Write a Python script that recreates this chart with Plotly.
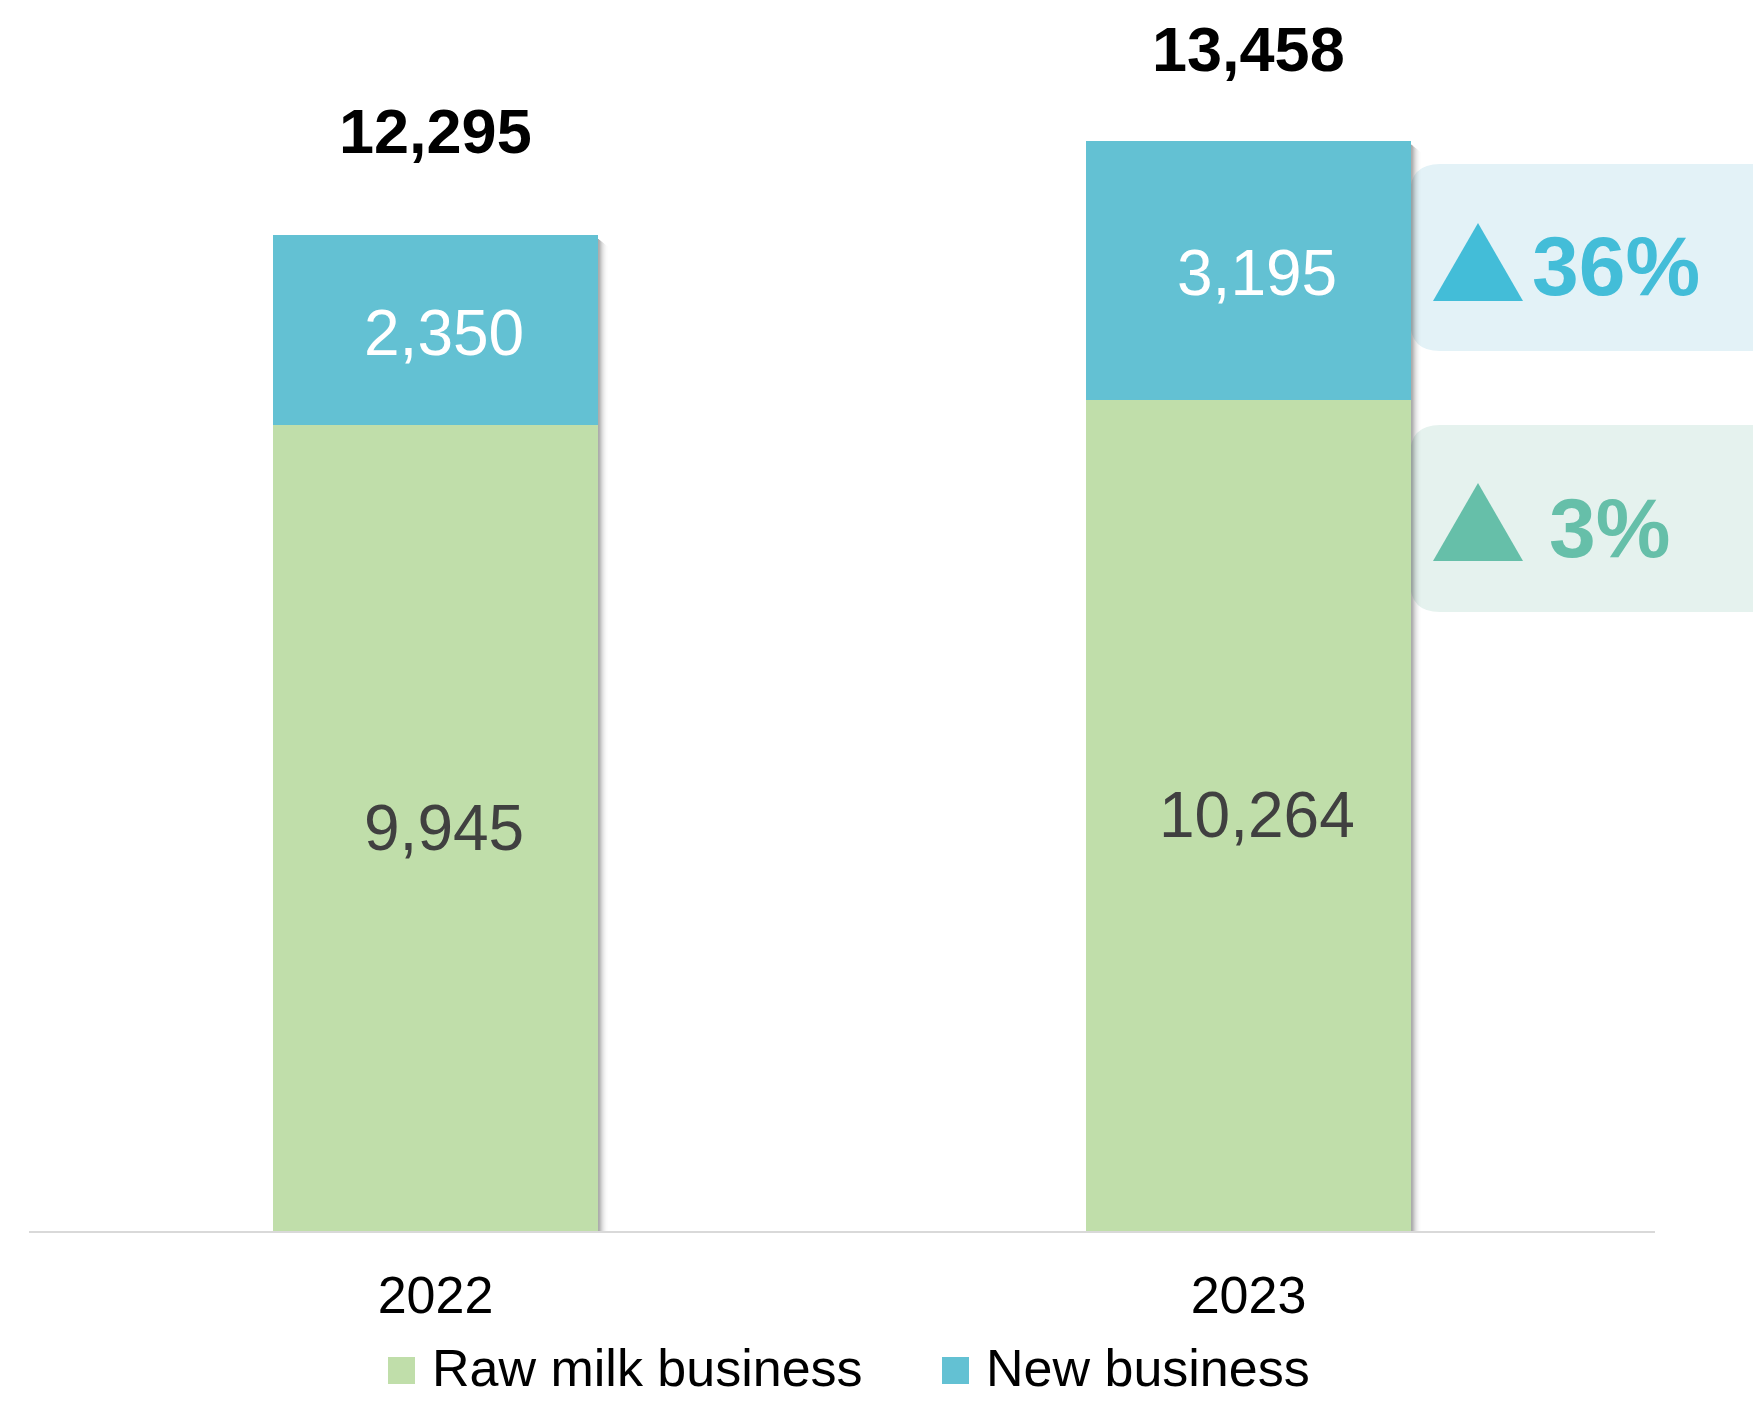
import plotly.graph_objects as go

# ---- data -------------------------------------------------------------
years = ["2022", "2023"]
raw_milk = [9945, 10264]
new_business = [2350, 3195]
totals = [12295, 13458]
series_names = ["Raw milk business", "New business"]

# ---- style ------------------------------------------------------------
FONT = "Liberation Sans, Arial, sans-serif"
GREEN = "#C0DEAA"
BLUE = "#63C1D3"
DARK = "#404040"
TRI_BLUE = "#43BDD8"
TRI_GREEN = "#66BFA9"
BOX_BLUE = "#E3F2F7"
BOX_GREEN = "#E5F2EE"

W_PX, H_PX = 1753, 1402
M_L, M_R, M_T, M_B = 29, 98, 20, 171
PLOT_W = W_PX - M_L - M_R
PLOT_H = H_PX - M_T - M_B
BASE_Y = H_PX - M_B
PX_PER_UNIT = 0.0810
Y_MAX = PLOT_H / PX_PER_UNIT
BAR_W = 0.4


def px(x):
    return (x - M_L) / PLOT_W


def py(y):
    return (BASE_Y - y) / PLOT_H


def rounded_rect(x0, y0, x1, y1, r):
    rx, ry = r / PLOT_W, r / PLOT_H
    X0, X1 = px(x0), px(x1)
    Yt, Yb = py(y0), py(y1)
    return (f"M{X0 + rx},{Yt} L{X1 - rx},{Yt} Q{X1},{Yt} {X1},{Yt - ry} "
            f"L{X1},{Yb + ry} Q{X1},{Yb} {X1 - rx},{Yb} "
            f"L{X0 + rx},{Yb} Q{X0},{Yb} {X0},{Yb + ry} "
            f"L{X0},{Yt - ry} Q{X0},{Yt} {X0 + rx},{Yt} Z")


def triangle(cx, top, bottom, half):
    return (f"M{px(cx)},{py(top)} L{px(cx + half)},{py(bottom)} "
            f"L{px(cx - half)},{py(bottom)} Z")


xs = list(range(len(years)))

fig = go.Figure()
fig.add_trace(go.Bar(x=xs, y=raw_milk, name=series_names[0], marker_color=GREEN,
                     marker_line_width=0, width=BAR_W, hoverinfo="skip"))
fig.add_trace(go.Bar(x=xs, y=new_business, name=series_names[1], marker_color=BLUE,
                     marker_line_width=0, width=BAR_W, hoverinfo="skip"))

shapes = []
annotations = []

# soft shadow on the right edge of each bar
shadow_alpha = [0.36, 0.30, 0.24, 0.18, 0.13, 0.09, 0.06, 0.035, 0.02, 0.01]
for i in xs:
    top = raw_milk[i] + new_business[i]
    for k, a in enumerate(shadow_alpha):
        shapes.append(dict(type="rect", xref="x", yref="y", xsizemode="pixel",
                           xanchor=i + BAR_W / 2, x0=k, x1=k + 1,
                           y0=0, y1=top - (4 + k * 0.8) / PX_PER_UNIT, line_width=0,
                           fillcolor=f"rgba(0,0,0,{a})", layer="above"))

# segment value labels
for i in xs:
    annotations.append(dict(x=i, y=raw_milk[i] / 2, xref="x", yref="y", xshift=8,
                            text=f"{raw_milk[i]:,}", showarrow=False,
                            font=dict(family=FONT, size=64, color=DARK)))
    annotations.append(dict(x=i, y=raw_milk[i] + new_business[i] / 2, xref="x",
                            yref="y", xshift=8, yshift=-3, text=f"{new_business[i]:,}",
                            showarrow=False,
                            font=dict(family=FONT, size=64, color="white")))

# totals above bars
total_lift = [104, 92]
for i, t in enumerate(totals):
    annotations.append(dict(x=i, y=t, xref="x", yref="y", yshift=total_lift[i],
                            yanchor="middle", text=f"<b>{t:,}</b>", showarrow=False,
                            font=dict(family=FONT, size=63, color="black")))

# growth call-outs
growth_new = round((new_business[1] / new_business[0] - 1) * 100)
growth_raw = round((raw_milk[1] / raw_milk[0] - 1) * 100)
callouts = [
    (164, 351, BOX_BLUE, TRI_BLUE, 223, 301, growth_new, 1530, 266),
    (425, 612, BOX_GREEN, TRI_GREEN, 483, 561, growth_raw, 1547, 528),
]
for top, bot, box_c, tri_c, t_top, t_bot, g, tx, ty in callouts:
    shapes.append(dict(type="path", xref="paper", yref="paper",
                       path=rounded_rect(1410, top, 1800, bot, 30),
                       fillcolor=box_c, line_width=0, layer="below"))
    shapes.append(dict(type="path", xref="paper", yref="paper",
                       path=triangle(1478, t_top, t_bot, 45),
                       fillcolor=tri_c, line_width=0, layer="above"))
    annotations.append(dict(x=px(tx), y=py(ty), xref="paper", yref="paper",
                            xanchor="left", yanchor="middle", text=f"<b>{g}%</b>",
                            showarrow=False,
                            font=dict(family=FONT, size=84, color=tri_c)))

# legend
legend_items = [(series_names[0], GREEN, 388), (series_names[1], BLUE, 942)]
for name, col, x0 in legend_items:
    shapes.append(dict(type="rect", xref="paper", yref="paper",
                       x0=px(x0), x1=px(x0 + 27), y0=py(1357), y1=py(1384),
                       fillcolor=col, line_width=0))
    annotations.append(dict(x=px(x0 + 42), y=py(1368), xref="paper", yref="paper",
                            xanchor="left", yanchor="middle", text=name,
                            showarrow=False,
                            font=dict(family=FONT, size=52, color="black")))

fig.update_layout(
    barmode="stack",
    width=W_PX, height=H_PX,
    margin=dict(l=M_L, r=M_R, t=M_T, b=M_B, pad=0),
    paper_bgcolor="white", plot_bgcolor="white",
    showlegend=False,
    shapes=shapes,
    annotations=annotations,
    font=dict(family=FONT),
    xaxis=dict(range=[-0.5, 1.5], tickvals=xs, ticktext=years, showgrid=False,
               zeroline=False, showline=True, linecolor="#D9D9D9", linewidth=2,
               ticks="", ticklabelstandoff=18,
               tickfont=dict(family=FONT, size=52, color="black"),
               fixedrange=True),
    yaxis=dict(range=[0, Y_MAX], visible=False, fixedrange=True),
)

fig.write_html("out.html", config={"displayModeBar": False})
